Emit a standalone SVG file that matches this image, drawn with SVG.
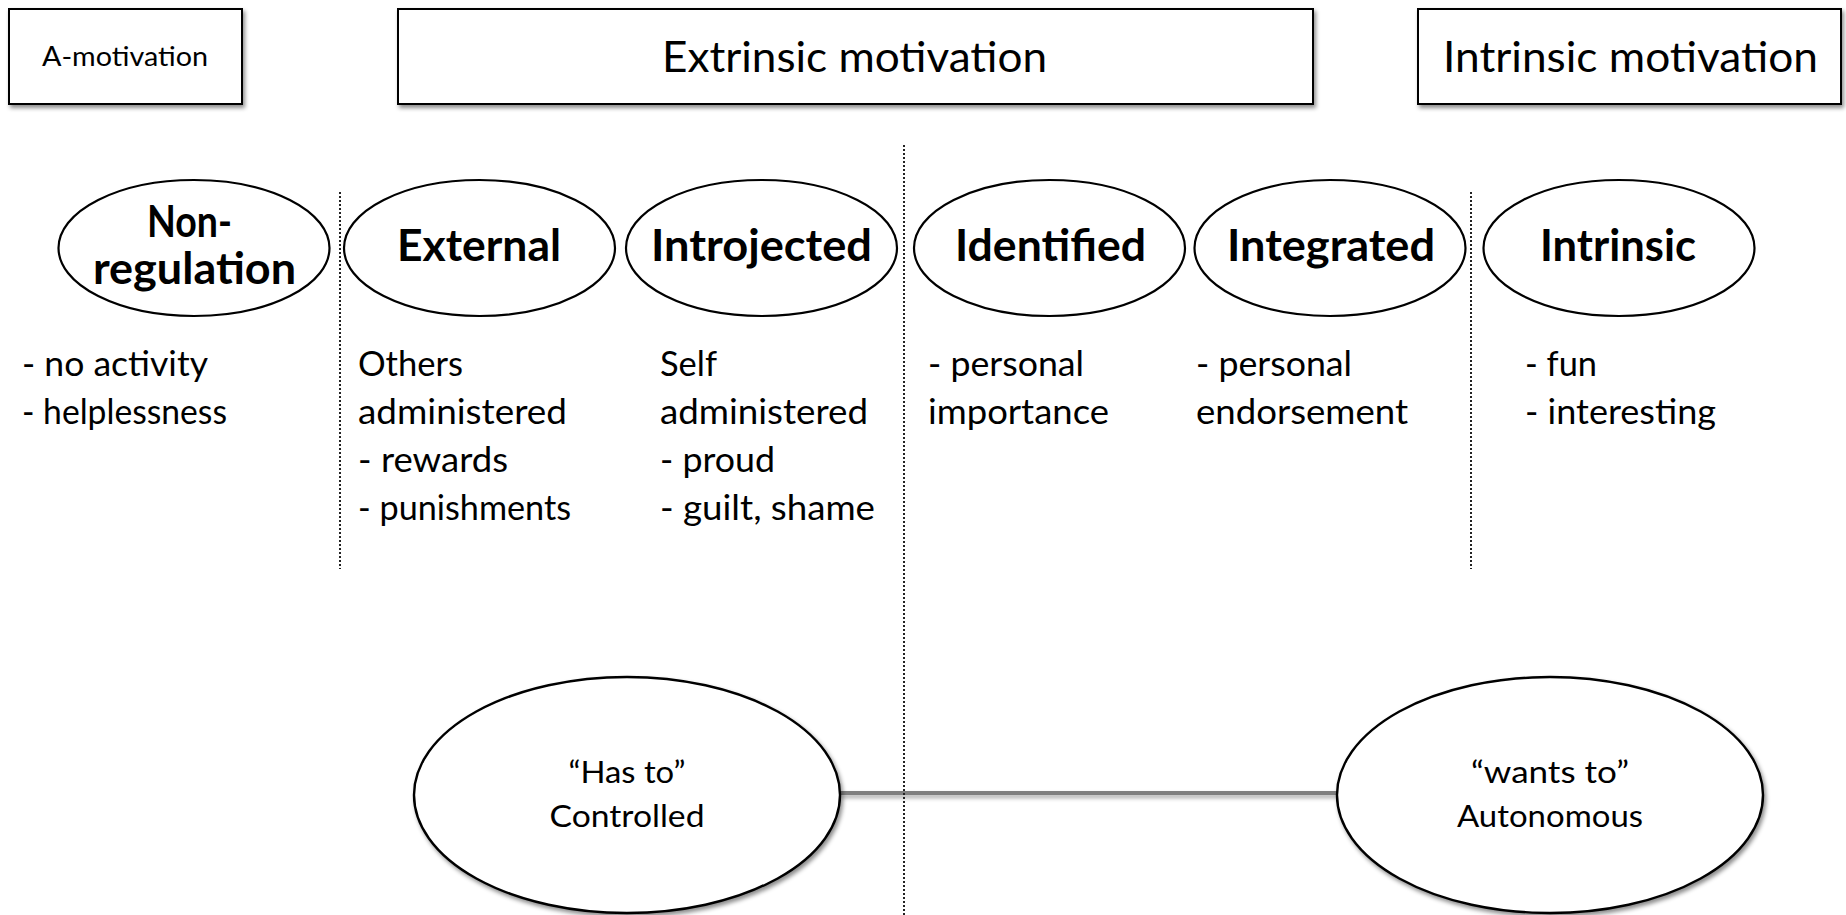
<svg xmlns="http://www.w3.org/2000/svg" width="1846" height="915" viewBox="0 0 1846 915">
<style>
  .box{fill:#fff;stroke:#000;stroke-width:2}
  .ell{fill:#fff;stroke:#000;stroke-width:2.2}
  .big{fill:#fff;stroke:#000;stroke-width:2.4}
  .hdr{font-family:Lato,"Open Sans",sans-serif;font-size:43px;fill:#000}
  .hdrs{font-family:Lato,"Open Sans",sans-serif;font-size:26px;fill:#000}
  .lbl{font-family:Lato,"Open Sans",sans-serif;font-size:43px;font-weight:bold;fill:#000}
  .txt{font-family:Lato,"Open Sans",sans-serif;font-size:34px;fill:#000}
  .cap{font-family:Lato,"Open Sans",sans-serif;font-size:31px;fill:#000;text-anchor:middle}
  .dot{stroke:#222;stroke-width:2;stroke-dasharray:2 2;fill:none}
  .conn{fill:#7f7f7f;stroke:none}
</style>
<defs>
  <filter id="sh" x="-10%" y="-10%" width="125%" height="130%">
    <feDropShadow dx="2" dy="3" stdDeviation="2" flood-color="#000" flood-opacity="0.45"/>
  </filter>
  <filter id="shl" filterUnits="userSpaceOnUse" x="820" y="780" width="540" height="30">
    <feDropShadow dx="1" dy="3" stdDeviation="2" flood-color="#000" flood-opacity="0.35"/>
  </filter>
</defs>

<g id="box-amotivation">
  <rect class="box" x="9" y="9" width="233" height="95" filter="url(#sh)"/>
  <text class="hdrs" x="42" y="66" textLength="166" lengthAdjust="spacingAndGlyphs">A-motivation</text>
</g>
<g id="box-extrinsic">
  <rect class="box" x="398" y="9" width="915" height="95" filter="url(#sh)"/>
  <text class="hdr" x="662" y="72" textLength="385" lengthAdjust="spacingAndGlyphs">Extrinsic motivation</text>
</g>
<g id="box-intrinsic">
  <rect class="box" x="1418" y="9" width="423" height="95" filter="url(#sh)"/>
  <text class="hdr" x="1443" y="72" textLength="375" lengthAdjust="spacingAndGlyphs">Intrinsic motivation</text>
</g>

<g id="connectors">
  <rect class="conn" x="840" y="791" width="498" height="4" filter="url(#shl)"/>
  <line class="dot" x1="340" y1="192" x2="340" y2="569"/>
  <line class="dot" x1="904" y1="145" x2="904" y2="915"/>
  <line class="dot" x1="1471" y1="192" x2="1471" y2="569"/>
</g>

<g id="node-nonregulation">
  <ellipse class="ell" cx="194" cy="248" rx="135.5" ry="68"/>
  <text class="lbl" x="147" y="237" textLength="85" lengthAdjust="spacingAndGlyphs">Non-</text>
  <text class="lbl" x="93" y="284" textLength="203" lengthAdjust="spacingAndGlyphs">regulation</text>
  <text class="txt" x="22" y="376" textLength="186" lengthAdjust="spacingAndGlyphs">- no activity</text>
  <text class="txt" x="22" y="424" textLength="205" lengthAdjust="spacingAndGlyphs">- helplessness</text>
</g>
<g id="node-external">
  <ellipse class="ell" cx="479.5" cy="248" rx="135.5" ry="68"/>
  <text class="lbl" x="397" y="261" textLength="164" lengthAdjust="spacingAndGlyphs">External</text>
  <text class="txt" x="358" y="376" textLength="105" lengthAdjust="spacingAndGlyphs">Others</text>
  <text class="txt" x="358" y="424" textLength="209" lengthAdjust="spacingAndGlyphs">administered</text>
  <text class="txt" x="358" y="472" textLength="150" lengthAdjust="spacingAndGlyphs">- rewards</text>
  <text class="txt" x="358" y="520" textLength="213" lengthAdjust="spacingAndGlyphs">- punishments</text>
</g>
<g id="node-introjected">
  <ellipse class="ell" cx="761.5" cy="248" rx="135.5" ry="68"/>
  <text class="lbl" x="651" y="261" textLength="221" lengthAdjust="spacingAndGlyphs">Introjected</text>
  <text class="txt" x="660" y="376" textLength="57" lengthAdjust="spacingAndGlyphs">Self</text>
  <text class="txt" x="660" y="424" textLength="208" lengthAdjust="spacingAndGlyphs">administered</text>
  <text class="txt" x="660" y="472" textLength="115" lengthAdjust="spacingAndGlyphs">- proud</text>
  <text class="txt" x="660" y="520" textLength="215" lengthAdjust="spacingAndGlyphs">- guilt, shame</text>
</g>
<g id="node-identified">
  <ellipse class="ell" cx="1049.5" cy="248" rx="135.5" ry="68"/>
  <text class="lbl" x="955" y="261" textLength="191" lengthAdjust="spacingAndGlyphs">Identified</text>
  <text class="txt" x="928" y="376" textLength="156" lengthAdjust="spacingAndGlyphs">- personal</text>
  <text class="txt" x="928" y="424" textLength="181" lengthAdjust="spacingAndGlyphs">importance</text>
</g>
<g id="node-integrated">
  <ellipse class="ell" cx="1330" cy="248" rx="135.5" ry="68"/>
  <text class="lbl" x="1227" y="261" textLength="208" lengthAdjust="spacingAndGlyphs">Integrated</text>
  <text class="txt" x="1196" y="376" textLength="156" lengthAdjust="spacingAndGlyphs">- personal</text>
  <text class="txt" x="1196" y="424" textLength="212" lengthAdjust="spacingAndGlyphs">endorsement</text>
</g>
<g id="node-intrinsic">
  <ellipse class="ell" cx="1619" cy="248" rx="135.5" ry="68"/>
  <text class="lbl" x="1540" y="261" textLength="156" lengthAdjust="spacingAndGlyphs">Intrinsic</text>
  <text class="txt" x="1525" y="376" textLength="72" lengthAdjust="spacingAndGlyphs">- fun</text>
  <text class="txt" x="1525" y="424" textLength="191" lengthAdjust="spacingAndGlyphs">- interesting</text>
</g>

<g id="node-controlled">
  <ellipse class="big" cx="627" cy="795" rx="213" ry="118" filter="url(#sh)"/>
  <text class="cap" x="627" y="783" textLength="117" lengthAdjust="spacingAndGlyphs">“Has to”</text>
  <text class="cap" x="627" y="827" textLength="155" lengthAdjust="spacingAndGlyphs">Controlled</text>
</g>
<g id="node-autonomous">
  <ellipse class="big" cx="1550" cy="795" rx="213" ry="118" filter="url(#sh)"/>
  <text class="cap" x="1550" y="783" textLength="158" lengthAdjust="spacingAndGlyphs">“wants to”</text>
  <text class="cap" x="1550" y="827" textLength="186" lengthAdjust="spacingAndGlyphs">Autonomous</text>
</g>
</svg>
